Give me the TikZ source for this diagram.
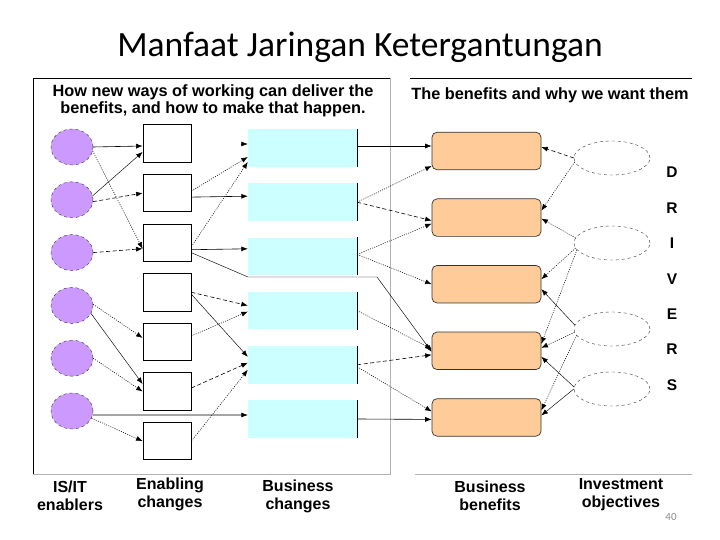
\documentclass[tikz,border=0pt]{standalone}
\usepackage{fontspec}
\setmainfont{Liberation Sans}
\newfontfamily\titlefont{Carlito}
\usetikzlibrary{arrows.meta,positioning,calc,shapes.geometric}

\definecolor{enablerpurple}{RGB}{204,153,255}
\definecolor{changecyan}{RGB}{204,255,255}
\definecolor{benefitorange}{RGB}{255,204,153}

\begin{document}
\begin{tikzpicture}[
    x=1pt, y=-1pt,
    every node/.style={
        font=\bfseries\fontsize{16}{18}\selectfont,
        align=center,
        inner sep=0pt
    },
    enabler/.style={
        ellipse,
        draw=black!80,
        dashed,
        fill=enablerpurple,
        minimum width=42pt,
        minimum height=36pt
    },
    enabling/.style={
        draw=black,
        line width=0.8pt,
        fill=white,
        minimum width=48pt,
        minimum height=37.5pt
    },
    bchange/.style={
        fill=changecyan,
        minimum width=109pt,
        minimum height=37.5pt,
        append after command={
            (\tikzlastnode.north east) edge[line width=0.8pt] (\tikzlastnode.south east)
        }
    },
    benefit/.style={
        draw=black!80,
        line width=0.7pt,
        fill=benefitorange,
        rounded corners=5pt,
        minimum width=109pt,
        minimum height=37.5pt
    },
    objective/.style={
        ellipse,
        draw=black!80,
        dashed,
        fill=white,
        minimum width=76pt,
        minimum height=34pt
    },
    letter/.style={
        font=\bfseries\fontsize{15.5}{18}\selectfont
    },
    frameline/.style={
        line width=0.8pt
    },
    solidlink/.style={
        draw=black,
        line width=0.6pt,
        -{Latex[length=6.5pt,width=5pt]}
    },
    dashlink/.style={
        solidlink,
        dash pattern=on 4pt off 2.5pt
    },
    dotlink/.style={
        solidlink,
        line width=0.55pt,
        dash pattern=on 1pt off 1.3pt
    }
]

\useasboundingbox (0,0) rectangle (720,540);

% ============================================================
% Title and panels
% ============================================================

\node[font=\titlefont\fontsize{35.5}{40}\selectfont] (title)
at (360,47) {Manfaat Jaringan Ketergantungan};

\draw[frameline, black] (33,474) -- (33,78) -- (390,78);
\draw[frameline, black!30] (390,78) -- (390,474) -- (33,474);
\draw[frameline, black] (410,78) -- (692,78);
\draw[frameline, black!30] (415,474) -- (692,474);

\node[font=\bfseries\fontsize{16.3}{17}\selectfont] (howheader)
at (213,101)
{How new ways of working can deliver the\\
benefits, and how to make that happen.};

\node[font=\bfseries\fontsize{16.3}{17}\selectfont] (whyheader)
at (550,95)
{The benefits and why we want them};

% ============================================================
% IS/IT enablers
% ============================================================

\node[enabler] (e1) at (72,147) {};
\node[enabler, below=16.4pt of e1] (e2) {};
\node[enabler, below=16.4pt of e2] (e3) {};
\node[enabler, below=16.4pt of e3] (e4) {};
\node[enabler, below=16.4pt of e4] (e5) {};
\node[enabler, below=16.4pt of e5] (e6) {};

% ============================================================
% Enabling changes
% ============================================================

\node[enabling] (c1) at (167,143.5) {};
\node[enabling, below=11.3pt of c1] (c2) {};
\node[enabling, below=11.3pt of c2] (c3) {};
\node[enabling, below=11.3pt of c3] (c4) {};
\node[enabling, below=11.3pt of c4] (c5) {};
\node[enabling, below=11.3pt of c5] (c6) {};
\node[enabling, below=11.3pt of c6] (c7) {};

% ============================================================
% Business changes
% ============================================================

\node[bchange] (bc1) at (302.5,148) {};
\node[bchange, below=16.3pt of bc1] (bc2) {};
\node[bchange, below=16.3pt of bc2] (bc3) {};
\node[bchange, below=16.3pt of bc3] (bc4) {};
\node[bchange, below=16.3pt of bc4] (bc5) {};
\node[bchange, below=16.3pt of bc5] (bc6) {};

% ============================================================
% Business benefits
% ============================================================

\node[benefit] (bb1) at (486.5,151) {};
\node[benefit, below=28.4pt of bb1] (bb2) {};
\node[benefit, below=28.4pt of bb2] (bb3) {};
\node[benefit, below=28.4pt of bb3] (bb4) {};
\node[benefit, below=28.4pt of bb4] (bb5) {};

% ============================================================
% Investment objectives and drivers
% ============================================================

\node[objective] (io1) at (612,158) {};
\node[objective] (io2) at (612,243) {};
\node[objective] (io3) at (612,329) {};
\node[objective] (io4) at (612,389) {};

\node[letter] (drvD) at (672,172) {D};
\node[letter] (drvR) at (672,208) {R};
\node[letter] (drvI) at (672,243) {I};
\node[letter] (drvV) at (672,279) {V};
\node[letter] (drvE) at (672,314) {E};
\node[letter] (drvRR) at (672,349) {R};
\node[letter] (drvS) at (672,385) {S};

% ============================================================
% Column captions
% ============================================================

\node (isitcap) at (70,496) {IS/IT\\enablers};
\node (enablingcap) at (170,494.5) {Enabling\\changes};
\node (bchangecap) at (298,496) {Business\\changes};
\node (benefitcap) at (490,496) {Business\\benefits};
\node (objectivecap) at (621,495) {Investment\\objectives};

\node[font=\titlefont\fontsize{11}{13}\selectfont, text=black!45] (pagenum)
at (671,517) {40};

% ============================================================
% Enablers to enabling changes
% ============================================================

\draw[solidlink] (e1.east) -- ($(c1.west)+(0,2.5)$);
\draw[dotlink] (e1.-11) -- ($(c3.west)+(0,6)$);
\draw[solidlink, line width=0.45pt] (e2.11) -- ($(c1.west)+(0,8.5)$);
\draw[dashlink] (e2.-5) -- (c2.west);
\draw[dashlink] (e3.east) -- ($(c3.west)+(0,6)$);
\draw[dotlink] (e4.3) -- ($(c5.west)+(0,-4)$);
\draw[solidlink, line width=0.45pt] (e4.-23) -- ($(c6.west)+(0,-7.5)$);
\draw[dotlink] (e5.east) -- (c6.west);
\draw[solidlink] (e6.-11) -- ($(bc6.west)+(0,-4)$);
\draw[dotlink] (e6.-20) -- (c7.west);

% ============================================================
% Enabling changes to business changes
% ============================================================

\coordinate (stubBC) at ($(bc1.west)+(-7,-4)$);
\draw[solidlink] (stubBC) -- ($(bc1.west)+(0,-4)$);

\draw[dotlink] ($(c2.east)+(0,-2)$) -- ($(bc1.west)+(0,9)$);
\draw[solidlink] ($(c2.east)+(0,4)$) -- ($(bc2.west)+(0,-6)$);
\draw[dotlink] ($(c3.east)+(0,4)$) -- ($(bc1.west)+(0,14)$);
\draw[solidlink] ($(c3.east)+(0,7)$) -- ($(bc3.west)+(0,-7.6)$);

\coordinate (bendA) at (248,277);
\coordinate (bendB) at (377,277);
\draw[solidlink, line width=0.45pt]
($(c3.east)+(0,10)$)
-- (bendA)
-- (bendB)
-- ($(bb4.west)+(0,1)$);

\draw[dashlink] (c4.east) -- ($(bc4.west)+(0,-5)$);
\draw[solidlink, line width=0.45pt] ($(c4.east)+(0,2)$) -- ($(bc5.west)+(0,-8)$);
\draw[dotlink] ($(c5.east)+(0,-6)$) -- ($(bc4.west)+(0,1)$);
\draw[dashlink] ($(c6.east)+(0,-3.5)$) -- ($(bc5.west)+(0,-2)$);
\draw[dotlink] (c7.east) -- ($(bc5.west)+(0,5)$);

% ============================================================
% Business changes to business benefits
% ============================================================

\draw[solidlink] ($(bc1.east)+(0,-2)$) -- ($(bb1.west)+(0,-5)$);
\draw[dotlink] (bc2.east) -- ($(bb1.west)+(0,15)$);
\draw[dashlink] (bc2.east) -- ($(bb2.west)+(0,3)$);
\draw[dotlink] ($(bc3.east)+(0,-2)$) -- ($(bb2.west)+(0,6)$);
\draw[dotlink] ($(bc3.east)+(0,-2)$) -- (bb3.west);
\draw[dotlink] (bc4.east) -- ($(bb4.west)+(0,-2)$);
\draw[dashlink] (bc5.east) -- ($(bb4.west)+(0,4)$);
\draw[dotlink] ($(bc5.east)+(0,2)$) -- ($(bb5.west)+(0,-6)$);
\draw[solidlink] (bc6.east) -- ($(bb5.west)+(0,2)$);

% ============================================================
% Investment objectives to business benefits
% ============================================================

\draw[dashlink] (io1.west) -- ($(bb1.east)+(0,-4)$);
\draw[dotlink] (io1.186) -- ($(bb2.east)+(0,-7)$);
\draw[dotlink] (io2.172) -- ($(bb2.east)+(0,1)$);
\draw[dotlink] (io2.188) -- ($(bb3.east)+(0,-5)$);
\draw[dotlink] (io2.191) -- ($(bb4.east)+(0,-7)$);
\draw[solidlink, line width=0.45pt] (io3.174) -- ($(bb3.east)+(0,5)$);
\draw[dotlink] (io3.185) -- ($(bb4.east)+(0,-3)$);
\draw[dotlink] (io3.190) -- ($(bb5.east)+(0,-7)$);
\draw[solidlink, line width=0.45pt] (io4.177) -- ($(bb4.east)+(0,6)$);
\draw[solidlink, line width=0.45pt] (io4.west) -- ($(bb5.east)+(0,-2)$);

\end{tikzpicture}
\end{document}
